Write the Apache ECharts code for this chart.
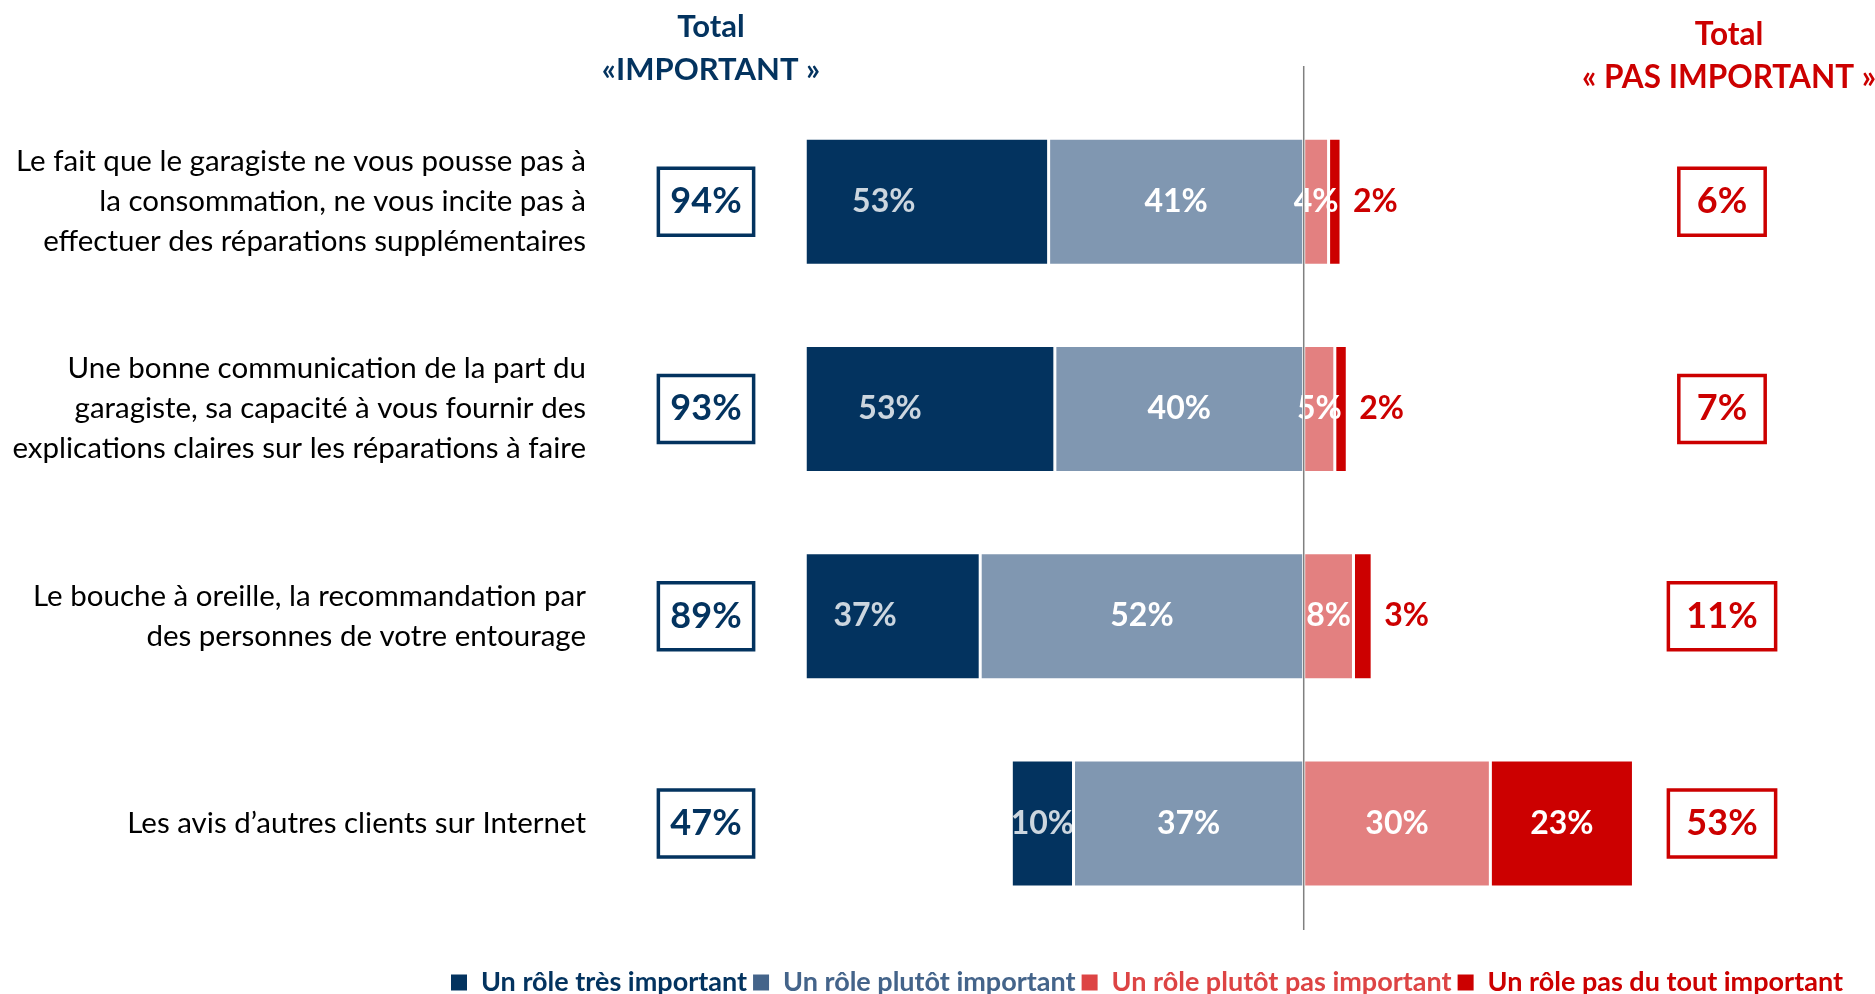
<!DOCTYPE html>
<html>
<head>
<meta charset="utf-8">
<script src="https://cdn.jsdelivr.net/npm/echarts@6/dist/echarts.min.js"></script>
<style>
  html, body { margin: 0; padding: 0; background: #fff; }
  #chart { width: 1875px; height: 994px; }
</style>
</head>
<body>
<div id="chart"></div>
<script>
// categories (top to bottom)
const categories = [
  'Le fait que le garagiste ne vous pousse pas à\nla consommation, ne vous incite pas à\neffectuer des réparations supplémentaires',
  'Une bonne communication de la part du\ngaragiste, sa capacité à vous fournir des\nexplications claires sur les réparations à faire',
  'Le bouche à oreille, la recommandation par\ndes personnes de votre entourage',
  'Les avis d’autres clients sur Internet'
];

// series values (%)
const tresImportant = [53, 53, 37, 10];
const plutotImportant = [41, 40, 52, 37];
const plutotPasImportant = [4, 5, 8, 30];
const pasDuToutImportant = [2, 2, 3, 23];

// totals shown in boxes
const totalImportant = [94, 93, 89, 47];
const totalPasImportant = [6, 7, 11, 53];

const seriesNames = [
  'Un rôle très important',
  'Un rôle plutôt important',
  'Un rôle plutôt pas important',
  'Un rôle pas du tout important'
];

const NAVY = '#03335f';
const SLATE = '#8097b1';
const PINK = '#e38080';
const RED = '#cc0000';
const FONT = 'Lato';

const chart = echarts.init(document.getElementById('chart'));

const pct = p => Math.abs(p.value) + '%';
const whiteLabel = {
  show: true, position: 'inside', color: '#fff', fontFamily: FONT,
  fontWeight: 'bold', fontSize: 32, formatter: pct
};
const barBase = {
  type: 'bar', stack: 'total', barWidth: 127, clip: true
};

const option = {
  animation: false,
  backgroundColor: '#fff',
  textStyle: { fontFamily: FONT },
  title: [
    {
      text: 'Total\n«IMPORTANT »', left: 706, top: 0, textAlign: 'center',
      textStyle: { color: NAVY, fontFamily: FONT, fontWeight: 'bold', fontSize: 31, lineHeight: 43 }
    },
    {
      text: 'Total\n« PAS IMPORTANT »', left: 1724, top: 8, textAlign: 'center',
      textStyle: { color: RED, fontFamily: FONT, fontWeight: 'bold', fontSize: 31.5, lineHeight: 43 }
    }
  ],
  legend: {
    left: 444, top: 964, width: 1800,
    itemWidth: 18, itemHeight: 18, itemGap: 4, icon: 'rect',
    selectedMode: false,
    textStyle: { fontFamily: FONT, fontWeight: 'bold', fontSize: 27, padding: [0, 0, 0, 8] },
    data: [
      { name: seriesNames[0], itemStyle: { color: NAVY }, textStyle: { color: NAVY } },
      { name: seriesNames[1], itemStyle: { color: '#44648a' }, textStyle: { color: '#44648a' } },
      { name: seriesNames[2], itemStyle: { color: '#dd4444' }, textStyle: { color: '#dd4444' } },
      { name: seriesNames[3], itemStyle: { color: RED }, textStyle: { color: RED } }
    ]
  },
  grid: { left: 806, width: 871, top: 98, height: 829 },
  xAxis: { type: 'value', min: -80, max: 60, show: false },
  yAxis: [
    {
      type: 'category', data: categories, inverse: true,
      axisLine: { show: false }, axisTick: { show: false },
      axisLabel: {
        margin: 220, color: '#000', fontFamily: FONT, fontSize: 29.5,
        lineHeight: 40, align: 'right'
      }
    },
    {
      type: 'category', data: totalImportant, inverse: true, position: 'left',
      axisLine: { show: false }, axisTick: { show: false },
      axisLabel: {
        margin: 100, align: 'center', formatter: v => v + '%',
        color: NAVY, fontFamily: FONT, fontWeight: 'bold', fontSize: 36,
        borderColor: NAVY, borderWidth: 3.5, padding: [17, 12, 14, 12]
      }
    },
    {
      type: 'category', data: totalPasImportant, inverse: true, position: 'right',
      axisLine: { show: false }, axisTick: { show: false },
      axisLabel: {
        margin: 45, align: 'center', formatter: v => v + '%',
        color: RED, fontFamily: FONT, fontWeight: 'bold', fontSize: 36,
        borderColor: RED, borderWidth: 3.5, padding: [17, 18, 14, 18]
      }
    }
  ],
  series: [
    Object.assign({}, barBase, {
      name: seriesNames[1],
      data: plutotImportant.map(v => -v),
      itemStyle: { color: SLATE, borderColor: '#fff', borderWidth: 1.5 },
      label: whiteLabel
    }),
    Object.assign({}, barBase, {
      name: seriesNames[0],
      data: tresImportant.map(v => -v),
      itemStyle: { color: NAVY, borderColor: '#fff', borderWidth: 1.5 },
      label: { show: false }
    }),
    Object.assign({}, barBase, {
      name: seriesNames[2],
      data: plutotPasImportant,
      itemStyle: { color: PINK, borderColor: '#fff', borderWidth: 1.5 },
      label: whiteLabel
    }),
    Object.assign({}, barBase, {
      name: seriesNames[3],
      data: pasDuToutImportant.map(v => v >= 10 ? v : {
        value: v,
        label: { position: 'right', distance: 12, color: RED }
      }),
      itemStyle: { color: RED, borderColor: '#fff', borderWidth: 1.5 },
      label: whiteLabel
    }),
    {
      // labels for the dark segments, centred on the full (unclipped) segment
      type: 'scatter', name: 'labels-tres', silent: true,
      symbolSize: 1, itemStyle: { color: 'rgba(0,0,0,0)' },
      data: tresImportant.map((v, i) => [-(plutotImportant[i] + v / 2), categories[i], v]),
      label: {
        show: true, position: 'inside', color: '#fff', fontFamily: FONT,
        fontWeight: 'bold', fontSize: 32, formatter: p => p.value[2] + '%'
      },
      z: 5
    }
  ]
};

chart.setOption(option);

// vertical zero line, a bit taller than the plot area
const x0 = chart.convertToPixel({ xAxisIndex: 0 }, 0);
chart.setOption({
  graphic: [{
    type: 'line', z: 100,
    shape: { x1: x0, y1: 66, x2: x0, y2: 930 },
    style: { stroke: '#808080', lineWidth: 1.5 }
  }]
});
</script>
</body>
</html>
